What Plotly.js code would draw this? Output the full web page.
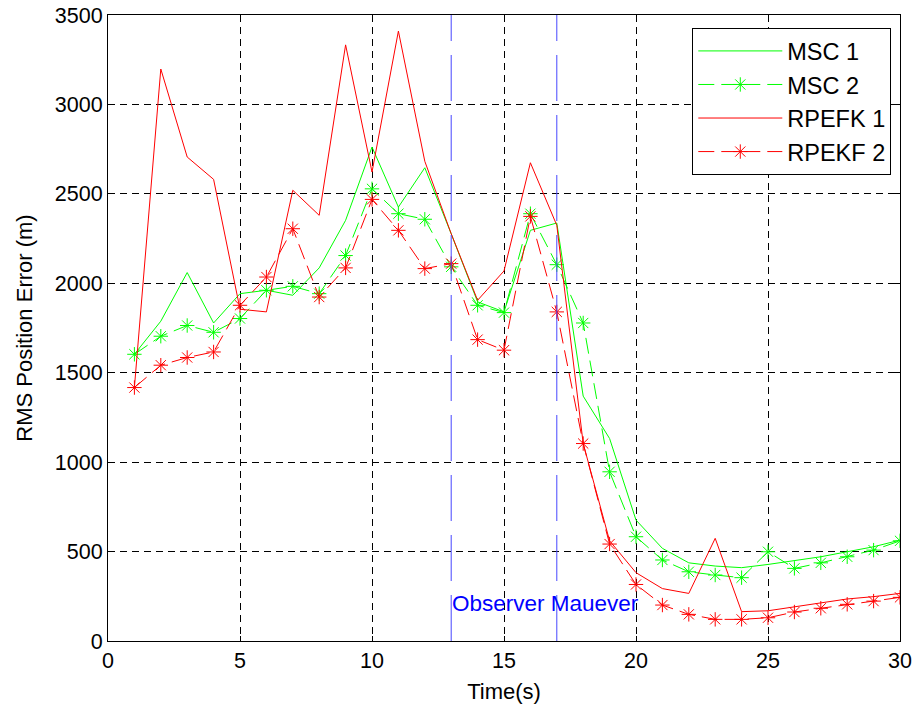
<!DOCTYPE html>
<html>
<head>
<meta charset="utf-8">
<script src="https://cdn.plot.ly/plotly-3.0.1.min.js"></script>
<style>html,body{margin:0;padding:0;background:#fff;}#chart{width:916px;height:708px;}</style>
</head>
<body>
<div id="chart"></div>
<script>
const time = [1,2,3,4,5,6,7,8,9,10,11,12,13,14,15,16,17,18,19,20,21,22,23,24,25,26,27,28,29,30];
const msc1 = [1603,1788,2060,1778,1942,1961,1933,2086,2352,2762,2426,2646,2277,1896,1840,2296,2337,1369,1132,676,518,437,419,410,428,450,471,499,527,564];
const msc2 = [1603,1704,1764,1726,1803,1961,1983,1942,2155,2528,2389,2358,2092,1877,1836,2389,2104,1778,946,583,453,387,369,354,499,406,437,471,508,560];
const rpefk1 = [1417,3198,2706,2581,1855,1840,2520,2380,3333,2622,3410,2682,2277,1905,2069,2674,2324,1104,560,382,293,266,574,164,169,192,214,235,248,266];
const rpekf2 = [1417,1542,1585,1616,1877,2035,2305,1923,2086,2469,2296,2082,2110,1685,1626,2374,1840,1104,542,316,201,149,121,121,130,162,183,205,223,244];
const seriesNames = ["MSC 1","MSC 2","RPEFK 1","RPEKF 2"];
const maneuverTimes = [13,17];
const yRange = [0,3500];
const maneuverLabel = "Observer Mauever";
const labelY = 212;
const xTicks = [0,5,10,15,20,25,30];
const yTicks = [0,500,1000,1500,2000,2500,3000,3500];

const FONT = "Arial, 'Liberation Sans', sans-serif";
const green = "rgb(0,255,0)", red = "rgb(255,0,0)";
const traces = [
  {x: time, y: msc1, name: seriesNames[0], mode: "lines", line: {color: green, width: 1}},
  {x: time, y: msc2, name: seriesNames[1], mode: "lines+markers", line: {color: green, width: 1, dash: "16px,7px"},
   marker: {symbol: "asterisk-open", size: 12, line: {color: green, width: 1}}},
  {x: time, y: rpefk1, name: seriesNames[2], mode: "lines", line: {color: red, width: 1}},
  {x: time, y: rpekf2, name: seriesNames[3], mode: "lines+markers", line: {color: red, width: 1, dash: "16px,7px"},
   marker: {symbol: "asterisk-open", size: 12, line: {color: red, width: 1}}}
];
maneuverTimes.forEach(t => {
  traces.push({x: [t,t], y: yRange, mode: "lines", showlegend: false, hoverinfo: "skip",
    line: {color: "rgb(70,70,255)", width: 1, dash: "46px,14px"}});
});

const axisCommon = {
  showline: true, linecolor: "black", linewidth: 1, mirror: "ticks",
  ticks: "inside", ticklen: 5, tickcolor: "black",
  showgrid: true, gridcolor: "black", gridwidth: 1, griddash: "7px,5px",
  zeroline: false, tickfont: {family: FONT, size: 21.5, color: "black"}
};
const layout = {
  width: 916, height: 708,
  margin: {l: 108, r: 16, t: 15, b: 67},
  paper_bgcolor: "white", plot_bgcolor: "white",
  font: {family: FONT, color: "black"},
  xaxis: Object.assign({}, axisCommon, {range: [0,30], tickvals: xTicks,
    title: {text: "Time(s)", font: {family: FONT, size: 22}, standoff: 11}}),
  yaxis: Object.assign({}, axisCommon, {range: yRange, tickvals: yTicks,
    title: {text: "RMS Position Error (m)", font: {family: FONT, size: 22}, standoff: 16}}),
  legend: {x: 0.989, y: 0.979, xanchor: "right", yanchor: "top",
    bgcolor: "white", bordercolor: "black", borderwidth: 1,
    font: {family: FONT, size: 23.5, color: "black"}, itemwidth: 84, tracegroupgap: 0},
  annotations: [{x: maneuverTimes[0], y: labelY, xref: "x", yref: "y", text: maneuverLabel,
    showarrow: false, xanchor: "left", yanchor: "middle", xshift: -1,
    font: {family: FONT, size: 22.5, color: "blue"}}]
};
Plotly.newPlot("chart", traces, layout, {displayModeBar: false, staticPlot: true});
</script>
</body>
</html>
